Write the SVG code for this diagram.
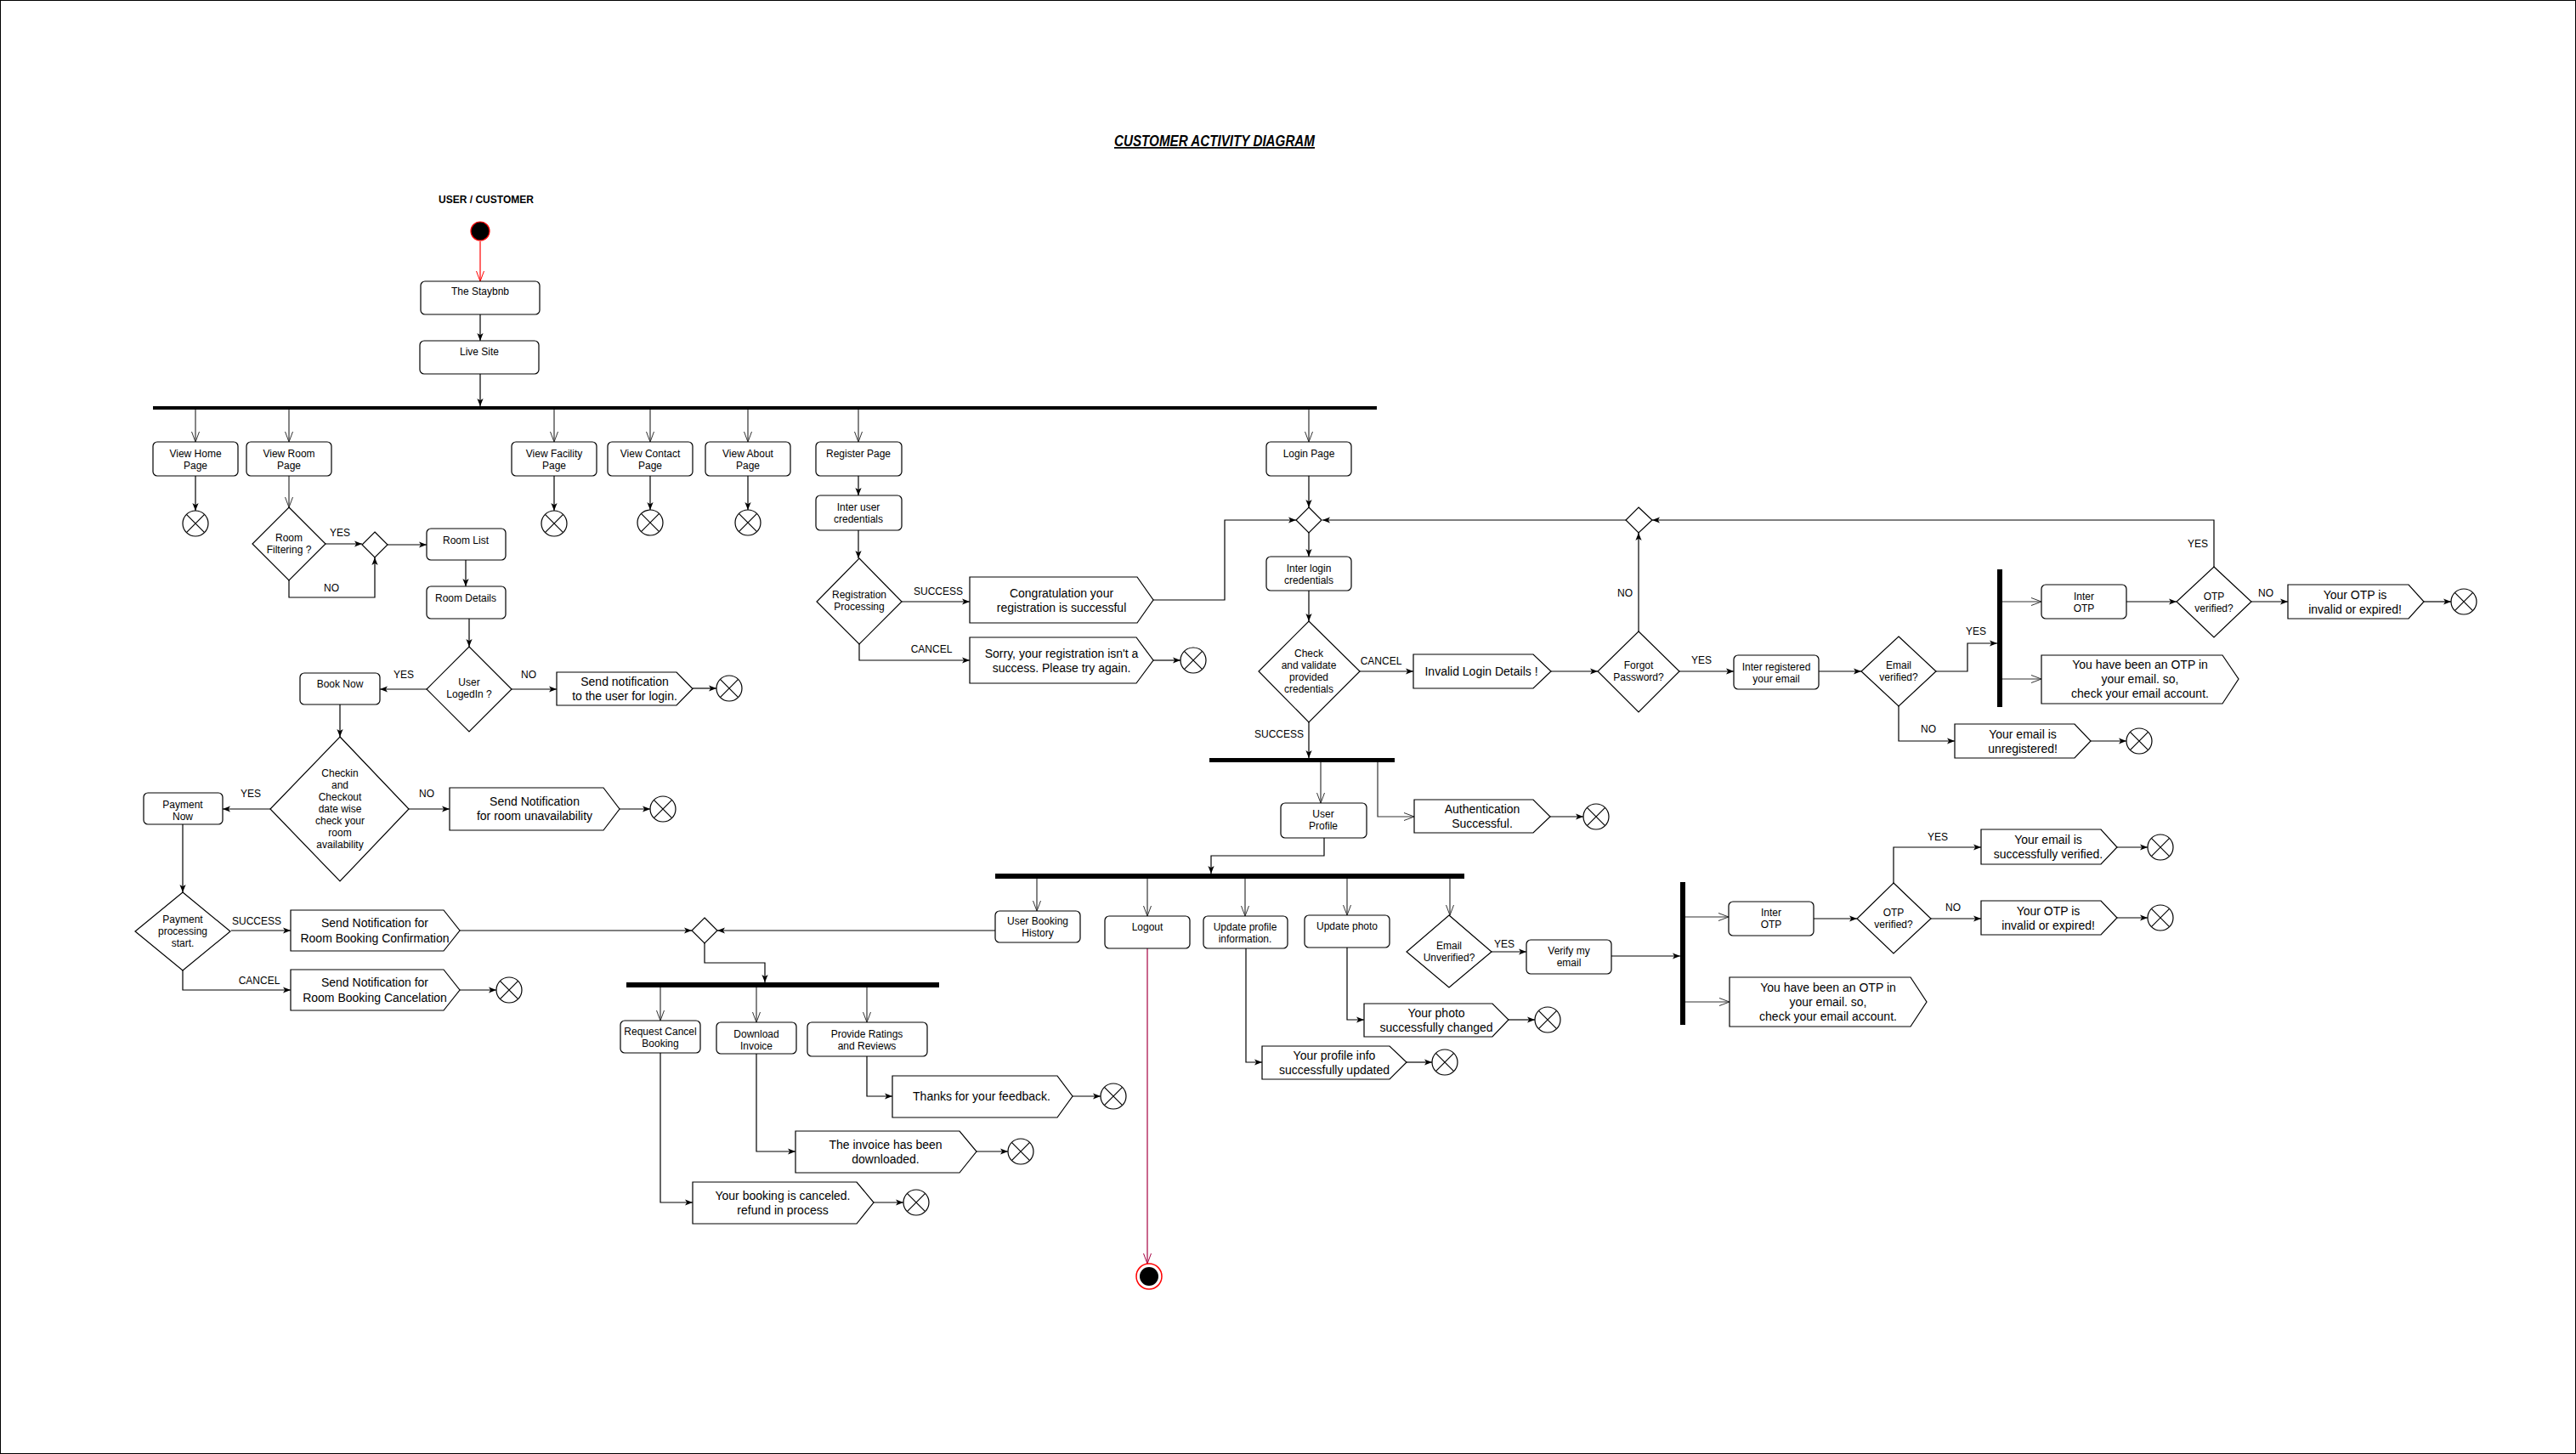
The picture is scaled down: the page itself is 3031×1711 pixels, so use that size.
<svg xmlns="http://www.w3.org/2000/svg" width="3031" height="1711" viewBox="0 0 3031 1711">
<style>
text{font-family:"Liberation Sans",Arial,sans-serif;fill:#000}
.t{font-size:12px;text-anchor:middle}
.m{font-size:14px;text-anchor:middle}
.l{font-size:12px;text-anchor:middle}
.box{fill:#fff;stroke:#000;stroke-width:1.2}
.dec{fill:#fff;stroke:#000;stroke-width:1.2}
.cal{fill:#fff;stroke:#000;stroke-width:1.2}
.bar{fill:#000}
.c{fill:none;stroke:#000;stroke-width:1.2;marker-end:url(#fa)}
.o{fill:none;stroke:#333;stroke-width:1.2;marker-end:url(#oa)}
.ffc{fill:#fff;stroke:#000;stroke-width:1.2}
.ffx{fill:none;stroke:#000;stroke-width:1.2}
</style>
<defs>
<marker id="fa" viewBox="0 0 10 10" refX="10" refY="5" markerWidth="9" markerHeight="9" markerUnits="userSpaceOnUse" orient="auto"><path d="M0,1 L10,5 L0,9 L2.5,5 z" fill="#000"/></marker>
<marker id="oa" viewBox="0 0 12 10" refX="12" refY="5" markerWidth="12" markerHeight="10" markerUnits="userSpaceOnUse" orient="auto"><path d="M0,0.5 L12,5 L0,9.5" fill="none" stroke="#333" stroke-width="1"/></marker>
<marker id="ra" viewBox="0 0 12 10" refX="12" refY="5" markerWidth="12" markerHeight="10" markerUnits="userSpaceOnUse" orient="auto"><path d="M0,0.5 L12,5 L0,9.5" fill="none" stroke="#FF0000" stroke-width="1"/></marker>
<marker id="ca" viewBox="0 0 12 10" refX="12" refY="5" markerWidth="12" markerHeight="10" markerUnits="userSpaceOnUse" orient="auto"><path d="M0,0.5 L12,5 L0,9.5" fill="none" stroke="#A50040" stroke-width="1"/></marker>
<g id="ff"><circle class="ffc" r="15"/><path class="ffx" d="M-10.6,-10.6 L10.6,10.6 M10.6,-10.6 L-10.6,10.6"/></g>
</defs>
<rect x="0.5" y="0.5" width="3030" height="1710" fill="#fff" stroke="#000" stroke-width="1"/>

<g id="title"><text x="1429" y="172" textLength="236" lengthAdjust="spacingAndGlyphs" style="font-size:18px;font-weight:bold;font-style:italic;text-anchor:middle;text-decoration:underline">CUSTOMER ACTIVITY DIAGRAM</text></g>
<g id="swimlane-label"><text x="572" y="239" style="font-size:12px;font-weight:bold;text-anchor:middle">USER / CUSTOMER</text></g>

<g id="connectors">
<path d="M565,284 V331" fill="none" stroke="#FF0000" stroke-width="1.2" marker-end="url(#ra)"/>
<path class="c" d="M565,370 V401"/>
<path class="c" d="M565,440 V478"/>
<path class="o" d="M230,482 V520"/>
<path class="o" d="M340,482 V520"/>
<path class="o" d="M652,482 V520"/>
<path class="o" d="M765,482 V520"/>
<path class="o" d="M880,482 V520"/>
<path class="o" d="M1010,482 V520"/>
<path class="o" d="M1540,482 V520"/>
<path class="c" d="M230,560 V601"/>
<path class="c" d="M652,560 V601"/>
<path class="c" d="M765,560 V600"/>
<path class="c" d="M880,560 V600"/>
<path class="o" d="M340,560 V597"/>
<path class="c" d="M383,640 H426"/>
<path class="c" d="M340,683 V703 H441 V656"/>
<path class="c" d="M456,641 H502"/>
<path class="c" d="M548,659 V690"/>
<path class="c" d="M552,728 V761"/>
<path class="c" d="M502,811 H447"/>
<path class="c" d="M602,811 H655"/>
<path class="c" d="M815,810 H843"/>
<path class="c" d="M400,829 V867"/>
<path class="c" d="M318,952 H262"/>
<path class="c" d="M481,952 H529"/>
<path class="c" d="M729,952 H765"/>
<path class="c" d="M215,970 V1050"/>
<path class="c" d="M272,1095 H342"/>
<path class="c" d="M215,1142 V1165 H342"/>
<path class="c" d="M541,1165 H584"/>
<path class="c" d="M541,1095 H814"/>
<path class="c" d="M1171,1095 H844"/>
<path class="c" d="M829,1110 V1133 H900 V1156"/>
<path class="o" d="M777,1162 V1201"/>
<path class="o" d="M890,1162 V1203"/>
<path class="o" d="M1020,1162 V1203"/>
<path class="c" d="M1020,1243 V1290 H1050"/>
<path class="c" d="M1262,1290 H1295"/>
<path class="c" d="M890,1240 V1355 H936"/>
<path class="c" d="M1149,1355 H1186"/>
<path class="c" d="M777,1239 V1415 H815"/>
<path class="c" d="M1028,1415 H1063"/>
<path class="c" d="M1010,560 V583"/>
<path class="c" d="M1010,624 V657"/>
<path class="c" d="M1061,708 H1141"/>
<path class="c" d="M1011,758 V777 H1141"/>
<path class="c" d="M1357,777 H1389"/>
<path class="c" d="M1357,706 H1441 V612 H1525"/>
<path class="c" d="M1540,560 V597"/>
<path class="c" d="M1540,627 V655"/>
<path class="c" d="M1540,695 V731"/>
<path class="c" d="M1600,790 H1663"/>
<path class="c" d="M1825,790 H1880"/>
<path class="c" d="M1928,743 V627"/>
<path class="c" d="M1913,612 H1556"/>
<path class="c" d="M1976,790 H2040"/>
<path class="c" d="M2140,790 H2190"/>
<path class="c" d="M2278,790 H2315 V757 H2350"/>
<path class="o" d="M2356,708 H2402"/>
<path class="o" d="M2356,799 H2402"/>
<path class="c" d="M2502,708 H2561"/>
<path class="c" d="M2649,708 H2692"/>
<path class="c" d="M2852,708 H2884"/>
<path class="c" d="M2605,667 V612 H1944"/>
<path class="c" d="M2234,831 V872 H2300"/>
<path class="c" d="M2460,872 H2502"/>
<path class="c" d="M1540,850 V892"/>
<path class="o" d="M1554,897 V945"/>
<path class="o" d="M1621,897 V961 H1664"/>
<path class="c" d="M1824,961 H1863"/>
<path class="c" d="M1558,986 V1007 H1425 V1028"/>
<path class="o" d="M1220,1034 V1072"/>
<path class="o" d="M1350,1034 V1078"/>
<path class="o" d="M1465,1034 V1078"/>
<path class="o" d="M1585,1034 V1077"/>
<path class="o" d="M1706,1034 V1077"/>
<path class="c" d="M1755,1120 H1796"/>
<path class="c" d="M1896,1125 H1977"/>
<path class="o" d="M1983,1079 H2034"/>
<path class="o" d="M1983,1179 H2035"/>
<path class="c" d="M2134,1081 H2185"/>
<path class="c" d="M2228,1039 V997 H2331"/>
<path class="c" d="M2491,997 H2527"/>
<path class="c" d="M2272,1081 H2331"/>
<path class="c" d="M2491,1080 H2527"/>
<path class="c" d="M1466,1116 V1250 H1485"/>
<path class="c" d="M1655,1250 H1685"/>
<path class="c" d="M1585,1115 V1200 H1605"/>
<path class="c" d="M1775,1200 H1806"/>
<path d="M1350,1116 V1487" fill="none" stroke="#A50040" stroke-width="1.2" marker-end="url(#ca)"/>
<text class="l" x="400" y="631">YES</text>
<text class="l" x="390" y="696">NO</text>
<text class="l" x="475" y="798">YES</text>
<text class="l" x="622" y="798">NO</text>
<text class="l" x="295" y="938">YES</text>
<text class="l" x="502" y="938">NO</text>
<text class="l" x="302" y="1088">SUCCESS</text>
<text class="l" x="305" y="1158">CANCEL</text>
<text class="l" x="1104" y="700">SUCCESS</text>
<text class="l" x="1096" y="768">CANCEL</text>
<text class="l" x="1625" y="782">CANCEL</text>
<text class="l" x="1912" y="702">NO</text>
<text class="l" x="2002" y="781">YES</text>
<text class="l" x="1505" y="868">SUCCESS</text>
<text class="l" x="2325" y="747">YES</text>
<text class="l" x="2269" y="862">NO</text>
<text class="l" x="2586" y="644">YES</text>
<text class="l" x="2666" y="702">NO</text>
<text class="l" x="1770" y="1115">YES</text>
<text class="l" x="2280" y="989">YES</text>
<text class="l" x="2298" y="1072">NO</text>
</g>

<g id="start"><circle cx="565" cy="272" r="11" fill="#000" stroke="#FF0000" stroke-width="1.2"/></g>
<g id="staybnb"><rect class="box" x="495" y="331" width="140" height="39" rx="5"/><text class="t" x="565" y="347">The Staybnb</text></g>
<g id="live-site"><rect class="box" x="494" y="401" width="140" height="39" rx="5"/><text class="t" x="564" y="418">Live Site</text></g>
<g id="fork-main"><rect class="bar" x="180" y="478" width="1440" height="4"/></g>

<g id="view-home"><rect class="box" x="180" y="520" width="100" height="40" rx="5"/><text class="t" x="230" y="538">View Home<tspan x="230" dy="14">Page</tspan></text></g>
<g id="view-room"><rect class="box" x="290" y="520" width="100" height="40" rx="5"/><text class="t" x="340" y="538">View Room<tspan x="340" dy="14">Page</tspan></text></g>
<g id="view-facility"><rect class="box" x="602" y="520" width="100" height="40" rx="5"/><text class="t" x="652" y="538">View Facility<tspan x="652" dy="14">Page</tspan></text></g>
<g id="view-contact"><rect class="box" x="715" y="520" width="100" height="40" rx="5"/><text class="t" x="765" y="538">View Contact<tspan x="765" dy="14">Page</tspan></text></g>
<g id="view-about"><rect class="box" x="830" y="520" width="100" height="40" rx="5"/><text class="t" x="880" y="538">View About<tspan x="880" dy="14">Page</tspan></text></g>
<g id="register-page"><rect class="box" x="960" y="520" width="101" height="40" rx="5"/><text class="t" x="1010" y="538">Register Page</text></g>
<g id="login-page"><rect class="box" x="1490" y="520" width="100" height="40" rx="5"/><text class="t" x="1540" y="538">Login Page</text></g>

<g id="ff-home"><use href="#ff" x="230" y="616"/></g>
<g id="ff-facility"><use href="#ff" x="652" y="616"/></g>
<g id="ff-contact"><use href="#ff" x="765" y="615"/></g>
<g id="ff-about"><use href="#ff" x="880" y="615"/></g>

<g id="room-filtering"><polygon class="dec" points="340,597 383,640 340,683 297,640"/><text class="t" x="340" y="637">Room<tspan x="340" dy="14">Filtering ?</tspan></text></g>
<g id="merge-room"><polygon class="dec" points="441,626 456,641 441,656 426,641"/></g>
<g id="room-list"><rect class="box" x="502" y="622" width="93" height="37" rx="5"/><text class="t" x="548" y="640">Room List</text></g>
<g id="room-details"><rect class="box" x="502" y="690" width="93" height="38" rx="5"/><text class="t" x="548" y="708">Room Details</text></g>
<g id="user-logedin"><polygon class="dec" points="552,761 602,811 552,861 502,811"/><text class="t" x="552" y="807">User<tspan x="552" dy="14">LogedIn ?</tspan></text></g>
<g id="book-now"><rect class="box" x="353" y="792" width="94" height="37" rx="5"/><text class="t" x="400" y="809">Book Now</text></g>
<g id="notify-login"><polygon class="cal" points="655,791 796,791 815,810.5 796,830 655,830"/><text class="m" x="735" y="807">Send notification<tspan x="735" dy="17">to the user for login.</tspan></text></g>
<g id="ff-login"><use href="#ff" x="858" y="810"/></g>
<g id="check-availability"><polygon class="dec" points="400,867 481,952 400,1037 318,952"/><text class="t" x="400" y="914">Checkin<tspan x="400" dy="14">and</tspan><tspan x="400" dy="14">Checkout</tspan><tspan x="400" dy="14">date wise</tspan><tspan x="400" dy="14">check your</tspan><tspan x="400" dy="14">room</tspan><tspan x="400" dy="14">availability</tspan></text></g>
<g id="payment-now"><rect class="box" x="169" y="933" width="93" height="37" rx="5"/><text class="t" x="215" y="951">Payment<tspan x="215" dy="14">Now</tspan></text></g>
<g id="notify-unavailable"><polygon class="cal" points="529,927 710,927 729,952 710,977 529,977"/><text class="m" x="629" y="948">Send Notification<tspan x="629" dy="17">for room unavailability</tspan></text></g>
<g id="ff-unavailable"><use href="#ff" x="780" y="952"/></g>
<g id="payment-processing"><polygon class="dec" points="215,1050 271,1096 215,1142 159,1096"/><text class="t" x="215" y="1086">Payment<tspan x="215" dy="14">processing</tspan><tspan x="215" dy="14">start.</tspan></text></g>
<g id="notify-confirm"><polygon class="cal" points="342,1071 522,1071 541,1095 522,1119 342,1119"/><text class="m" x="441" y="1091">Send Notification for<tspan x="441" dy="18">Room Booking Confirmation</tspan></text></g>
<g id="notify-cancel"><polygon class="cal" points="342,1141 522,1141 541,1165 522,1189 342,1189"/><text class="m" x="441" y="1161">Send Notification for<tspan x="441" dy="18">Room Booking Cancelation</tspan></text></g>
<g id="ff-cancelation"><use href="#ff" x="599" y="1165"/></g>
<g id="merge-booking"><polygon class="dec" points="829,1080 844,1095 829,1110 814,1095"/></g>
<g id="fork-booking"><rect class="bar" x="737" y="1156" width="368" height="6"/></g>
<g id="request-cancel"><rect class="box" x="730" y="1201" width="94" height="38" rx="5"/><text class="t" x="777" y="1218">Request Cancel<tspan x="777" dy="14">Booking</tspan></text></g>
<g id="download-invoice"><rect class="box" x="843" y="1203" width="94" height="37" rx="5"/><text class="t" x="890" y="1221">Download<tspan x="890" dy="14">Invoice</tspan></text></g>
<g id="ratings"><rect class="box" x="950" y="1203" width="141" height="40" rx="5"/><text class="t" x="1020" y="1221">Provide Ratings<tspan x="1020" dy="14">and Reviews</tspan></text></g>
<g id="thanks"><polygon class="cal" points="1050,1266 1244,1266 1262,1290 1244,1315 1050,1315"/><text class="m" x="1155" y="1295">Thanks for your feedback.</text></g>
<g id="ff-thanks"><use href="#ff" x="1310" y="1290"/></g>
<g id="invoice-done"><polygon class="cal" points="936,1331 1129,1331 1149,1355 1129,1380 936,1380"/><text class="m" x="1042" y="1352">The invoice has been<tspan x="1042" dy="17">downloaded.</tspan></text></g>
<g id="ff-invoice"><use href="#ff" x="1201" y="1355"/></g>
<g id="booking-canceled"><polygon class="cal" points="815,1391 1008,1391 1028,1415 1008,1440 815,1440"/><text class="m" x="921" y="1412">Your booking is canceled.<tspan x="921" dy="17">refund in process</tspan></text></g>
<g id="ff-canceled"><use href="#ff" x="1078" y="1415"/></g>

<g id="inter-user-cred"><rect class="box" x="960" y="583" width="101" height="41" rx="5"/><text class="t" x="1010" y="601">Inter user<tspan x="1010" dy="14">credentials</tspan></text></g>
<g id="registration-processing"><polygon class="dec" points="1011,657 1061,708 1011,758 961,708"/><text class="t" x="1011" y="704">Registration<tspan x="1011" dy="14">Processing</tspan></text></g>
<g id="congrat"><polygon class="cal" points="1141,679 1338,679 1357,706 1338,733 1141,733"/><text class="m" x="1249" y="703">Congratulation your<tspan x="1249" dy="17">registration is successful</tspan></text></g>
<g id="sorry"><polygon class="cal" points="1141,750 1337,750 1357,777 1337,804 1141,804"/><text class="m" x="1249" y="774">Sorry, your registration isn't a<tspan x="1249" dy="17">success. Please try again.</tspan></text></g>
<g id="ff-sorry"><use href="#ff" x="1404" y="777"/></g>

<g id="merge-login"><polygon class="dec" points="1540,597 1555,612 1540,627 1525,612"/></g>
<g id="inter-login-cred"><rect class="box" x="1490" y="655" width="100" height="40" rx="5"/><text class="t" x="1540" y="673">Inter login<tspan x="1540" dy="14">credentials</tspan></text></g>
<g id="check-validate"><polygon class="dec" points="1540,731 1600,790 1540,850 1481,790"/><text class="t" x="1540" y="773">Check<tspan x="1540" dy="14">and validate</tspan><tspan x="1540" dy="14">provided</tspan><tspan x="1540" dy="14">credentials</tspan></text></g>
<g id="invalid-login"><polygon class="cal" points="1663,770 1804,770 1825,790 1804,810 1663,810"/><text class="m" x="1743" y="795">Invalid Login Details !</text></g>
<g id="forgot-password"><polygon class="dec" points="1928,743 1976,790 1928,838 1880,790"/><text class="t" x="1928" y="787">Forgot<tspan x="1928" dy="14">Password?</tspan></text></g>
<g id="merge-forgot"><polygon class="dec" points="1928,597 1944,612 1928,627 1913,612"/></g>
<g id="inter-registered-email"><rect class="box" x="2040" y="771" width="100" height="40" rx="5"/><text class="t" x="2090" y="789">Inter registered<tspan x="2090" dy="14">your email</tspan></text></g>
<g id="email-verified"><polygon class="dec" points="2234,749 2278,790 2234,831 2190,790"/><text class="t" x="2234" y="787">Email<tspan x="2234" dy="14">verified?</tspan></text></g>
<g id="fork-otp1"><rect class="bar" x="2350" y="670" width="6" height="162"/></g>
<g id="inter-otp1"><rect class="box" x="2402" y="688" width="100" height="40" rx="5"/><text class="t" x="2452" y="706">Inter<tspan x="2452" dy="14">OTP</tspan></text></g>
<g id="otp-verified1"><polygon class="dec" points="2605,667 2649,708 2605,750 2561,708"/><text class="t" x="2605" y="706">OTP<tspan x="2605" dy="14">verified?</tspan></text></g>
<g id="otp-invalid1"><polygon class="cal" points="2692,688 2834,688 2852,708 2834,728 2692,728"/><text class="m" x="2771" y="705">Your OTP is<tspan x="2771" dy="17">invalid or expired!</tspan></text></g>
<g id="ff-otp1"><use href="#ff" x="2899" y="708"/></g>
<g id="otp-sent1"><polygon class="cal" points="2402,771 2615,771 2634,799 2615,828 2402,828"/><text class="m" x="2518" y="787">You have been an OTP in<tspan x="2518" dy="17">your email. so,</tspan><tspan x="2518" dy="17">check your email account.</tspan></text></g>
<g id="unregistered"><polygon class="cal" points="2300,852 2441,852 2460,872 2441,892 2300,892"/><text class="m" x="2380" y="869">Your email is<tspan x="2380" dy="17">unregistered!</tspan></text></g>
<g id="ff-unregistered"><use href="#ff" x="2517" y="872"/></g>

<g id="fork-auth"><rect class="bar" x="1423" y="892" width="218" height="5"/></g>
<g id="user-profile"><rect class="box" x="1507" y="945" width="101" height="41" rx="5"/><text class="t" x="1557" y="962">User<tspan x="1557" dy="14">Profile</tspan></text></g>
<g id="auth-success"><polygon class="cal" points="1664,941 1804,941 1824,961 1804,980 1664,980"/><text class="m" x="1744" y="957">Authentication<tspan x="1744" dy="17">Successful.</tspan></text></g>
<g id="ff-auth"><use href="#ff" x="1878" y="961"/></g>
<g id="fork-profile"><rect class="bar" x="1171" y="1028" width="552" height="6"/></g>
<g id="booking-history"><rect class="box" x="1171" y="1072" width="100" height="37" rx="5"/><text class="t" x="1221" y="1088">User Booking<tspan x="1221" dy="14">History</tspan></text></g>
<g id="logout"><rect class="box" x="1300" y="1078" width="100" height="38" rx="5"/><text class="t" x="1350" y="1095">Logout</text></g>
<g id="update-profile"><rect class="box" x="1416" y="1078" width="99" height="38" rx="5"/><text class="t" x="1465" y="1095">Update profile<tspan x="1465" dy="14">information.</tspan></text></g>
<g id="update-photo"><rect class="box" x="1535" y="1077" width="100" height="38" rx="5"/><text class="t" x="1585" y="1094">Update photo</text></g>
<g id="email-unverified"><polygon class="dec" points="1705,1077 1755,1120 1705,1162 1655,1120"/><text class="t" x="1705" y="1117">Email<tspan x="1705" dy="14">Unverified?</tspan></text></g>
<g id="verify-email"><rect class="box" x="1796" y="1106" width="100" height="40" rx="5"/><text class="t" x="1846" y="1123">Verify my<tspan x="1846" dy="14">email</tspan></text></g>
<g id="fork-otp2"><rect class="bar" x="1977" y="1038" width="6" height="168"/></g>
<g id="inter-otp2"><rect class="box" x="2034" y="1061" width="100" height="40" rx="5"/><text class="t" x="2084" y="1078">Inter<tspan x="2084" dy="14">OTP</tspan></text></g>
<g id="otp-verified2"><polygon class="dec" points="2228,1039 2272,1081 2228,1122 2185,1081"/><text class="t" x="2228" y="1078">OTP<tspan x="2228" dy="14">verified?</tspan></text></g>
<g id="email-verified-ok"><polygon class="cal" points="2331,976 2472,976 2491,997 2472,1017 2331,1017"/><text class="m" x="2410" y="993">Your email is<tspan x="2410" dy="17">successfully verified.</tspan></text></g>
<g id="ff-verified"><use href="#ff" x="2542" y="997"/></g>
<g id="otp-invalid2"><polygon class="cal" points="2331,1060 2472,1060 2491,1080 2472,1100 2331,1100"/><text class="m" x="2410" y="1077">Your OTP is<tspan x="2410" dy="17">invalid or expired!</tspan></text></g>
<g id="ff-otp2"><use href="#ff" x="2542" y="1080"/></g>
<g id="otp-sent2"><polygon class="cal" points="2035,1150 2248,1150 2267,1179 2248,1208 2035,1208"/><text class="m" x="2151" y="1167">You have been an OTP in<tspan x="2151" dy="17">your email. so,</tspan><tspan x="2151" dy="17">check your email account.</tspan></text></g>
<g id="profile-updated"><polygon class="cal" points="1485,1231 1635,1231 1655,1250 1635,1270 1485,1270"/><text class="m" x="1570" y="1247">Your profile info<tspan x="1570" dy="17">successfully updated</tspan></text></g>
<g id="ff-profile"><use href="#ff" x="1700" y="1250"/></g>
<g id="photo-changed"><polygon class="cal" points="1605,1181 1756,1181 1775,1200 1756,1220 1605,1220"/><text class="m" x="1690" y="1197">Your photo<tspan x="1690" dy="17">successfully changed</tspan></text></g>
<g id="ff-photo"><use href="#ff" x="1821" y="1200"/></g>
<g id="end"><circle cx="1352" cy="1502" r="15" fill="#fff" stroke="#FF0000" stroke-width="1.5"/><circle cx="1352" cy="1502" r="11" fill="#000"/></g>
</svg>
